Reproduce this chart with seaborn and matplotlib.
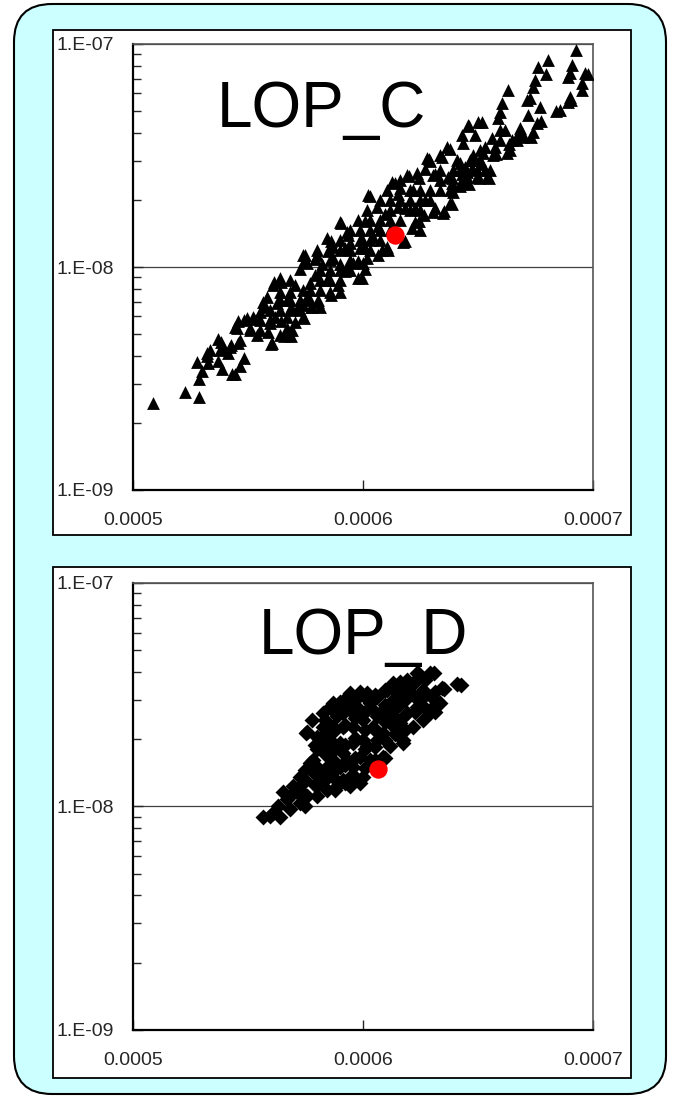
import numpy as np
import matplotlib
matplotlib.use("Agg")
import matplotlib.pyplot as plt
from matplotlib.patches import FancyBboxPatch, Rectangle
from matplotlib.ticker import LogLocator, NullFormatter
import seaborn as sns

# ============================================
# DATA  (x in units of 1e-6, y in units of 1e-9)
# ============================================

x_tick_values = [0.0005, 0.0006, 0.0007]
x_tick_labels = ["0.0005", "0.0006", "0.0007"]
y_tick_values = [1e-9, 1e-8, 1e-7]
y_tick_labels = ["1.E-09", "1.E-08", "1.E-07"]

panel_titles = ["LOP_C", "LOP_D"]

lop_c_x = [
    508.7, 522.6, 528.7, 528.7, 530.0, 527.8, 532.0, 532.6, 537.0, 538.7, 543.0, 544.3, 546.5, 548.3,
    537.0, 539.0, 541.3, 542.2, 545.6, 544.3, 545.6, 549.6, 552.2, 550.9, 553.9, 555.2, 558.7, 560.4,
    559.6, 561.7, 563.9, 567.0, 569.1, 567.0, 570.4, 573.9, 556.5, 555.2, 558.3, 560.9, 563.9, 563.9,
    562.6, 567.0, 568.3, 570.4, 571.3, 573.9, 573.9, 575.6, 577.8, 580.4, 581.3, 577.0, 579.1, 572.6,
    573.9, 575.6, 580.0, 582.2, 584.3, 585.7, 587.0, 590.0, 590.0, 593.0, 595.7, 597.8, 600.0, 601.7,
    574.8, 580.0, 584.3, 590.0, 587.0, 593.0, 594.3, 597.8, 602.2, 601.7, 606.0, 604.3, 608.3, 610.4,
    610.4, 612.6, 616.0, 615.2, 617.4, 619.1, 621.7, 622.6, 624.8, 623.5, 627.8, 627.0, 630.4, 630.4,
    634.8, 633.5, 637.0, 639.1, 637.8, 642.2, 643.5, 645.2, 647.8, 649.6, 653.0, 656.5,
    692.6, 680.4, 676.1, 679.6, 690.9, 690.0, 689.1, 696.5, 695.2, 695.2, 674.8, 674.0, 663.0, 660.4,
    671.3, 672.6, 677.0, 690.0, 689.1, 683.9, 671.7, 675.6, 659.6, 658.7, 645.7, 650.0, 651.7, 643.0,
    648.7, 643.5, 656.1, 659.6, 661.7, 668.3, 669.1, 667.0, 664.8, 662.6, 657.4, 653.0, 652.2, 647.8,
    636.5, 634.3, 640.9, 639.1, 644.3, 645.2, 649.6, 653.9, 638.7, 642.2,
    646.0, 628.7, 637.8, 627.0, 631.3, 638.7, 642.2, 650.4, 654.8, 667.8, 673.9, 677.4, 685.7, 690.4,
    697.8, 603.0, 613.9, 620.0, 624.3, 615.2, 618.3, 622.6, 626.5, 621.3, 624.3, 609.6, 606.5, 600.9,
    599.6, 593.5, 590.4, 586.1, 592.2, 600.9, 606.5, 610.9, 618.3, 584.8, 579.1, 574.3, 597.8, 600.9,
    599.6, 592.2, 589.1, 586.1, 580.4, 577.4, 568.7, 564.3, 560.0, 565.7, 568.7, 574.3,
    532.2, 538.3, 542.6, 545.2, 548.3, 552.6, 557.0, 561.3, 564.3,
    629.1, 631.3, 635.2, 638.7, 646.1, 643.0, 647.4, 651.7, 657.8, 663.5, 669.6, 673.0,
    563.9, 568.3, 572.6, 577.0, 581.3, 585.7, 581.3, 590.0, 594.3, 585.7, 598.7, 603.0, 603.0, 607.4,
    611.7, 611.7, 607.4, 616.1, 620.4, 624.8, 629.1, 629.1, 633.5, 633.5, 624.8, 616.1, 590.0, 598.7,
    533.5, 537.8, 546.5, 550.9, 555.2, 559.6, 559.6, 563.9, 568.3, 572.6, 568.3, 577.0, 581.3, 585.7,
    590.0, 594.3, 594.3, 590.0, 594.3, 598.7, 603.0, 603.0, 607.4, 607.4, 611.7, 616.1, 620.4, 611.7,
    624.8, 620.4, 633.5, 637.8, 642.2, 646.5, 650.9, 655.2, 650.9, 659.6, 664.0,
]
lop_c_y = [
    2.45, 2.75, 2.6, 3.15, 3.4, 3.75, 4.1, 3.7, 3.8, 3.5, 3.3, 3.3, 3.6, 3.9,
    4.75, 4.4, 4.1, 4.4, 4.55, 5.4, 5.75, 5.9, 5.95, 5.35, 4.95, 5.8, 5.1, 4.55,
    5.6, 5.95, 4.95, 5.35, 5.2, 5.95, 5.65, 5.95, 7.0, 6.3, 7.3, 8.3, 8.9, 7.7,
    6.9, 7.1, 7.7, 8.3, 6.45, 6.75, 7.9, 7.3, 6.6, 7.1, 6.65, 8.5, 9.2, 9.8,
    11.3, 10.4, 11.3, 10.3, 8.75, 7.7, 11.0, 10.3, 7.7, 9.7, 10.4, 8.9, 10.4, 11.0,
    11.3, 11.9, 13.5, 15.9, 12.3, 14.4, 12.8, 16.2, 21.0, 18.0, 18.6, 13.6, 11.9, 12.3,
    22.2, 24.0, 22.6, 18.6, 12.9, 25.8, 22.2, 15.9, 14.6, 26.4, 30.8, 20.0, 25.8, 17.6,
    17.4, 31.8, 25.3, 21.7, 19.4, 29.3, 24.0, 26.6, 30.2, 25.3, 27.2, 31.8,
    94.0, 84.8, 78.8, 73.4, 80.5, 74.0, 71.2, 74.0, 66.9, 62.2, 69.0, 64.1, 62.2, 54.4,
    56.1, 57.3, 52.2, 57.9, 55.0, 50.0, 48.0, 44.3, 49.6, 46.6, 43.3, 44.7, 44.7, 39.0,
    39.0, 36.0, 37.9, 41.2, 41.2, 41.9, 39.8, 37.1, 37.1, 32.5, 34.5, 34.5, 32.5, 31.8,
    34.5, 31.2, 30.2, 27.2, 28.0, 25.3, 27.2, 25.3, 23.8, 23.1,
    42.9, 30.5, 33.8, 27.5, 26.0, 25.1, 23.6, 25.1, 25.1, 40.3, 40.3, 45.2, 50.6, 56.1,
    73.4, 20.8, 23.8, 25.6, 25.1, 21.2, 18.4, 18.4, 17.1, 15.0, 16.1, 17.3, 15.2, 16.1,
    13.4, 13.9, 15.8, 13.1, 12.2, 12.2, 11.3, 11.9, 13.1, 11.8, 10.9, 10.6, 10.6, 9.8,
    8.9, 9.6, 8.3, 7.5, 7.0, 6.6, 6.6, 5.7, 4.5, 4.9, 4.9, 5.9,
    4.0, 4.6, 4.45, 5.3, 5.8, 5.85, 6.6, 8.55, 8.55,
    29.9, 18.4, 17.9, 19.2, 23.6, 26.0, 27.8, 28.9, 32.1, 35.6, 38.3, 38.3,
    7.11, 8.74, 7.11, 7.9, 8.74, 9.7, 9.7, 11.9, 11.9, 10.7, 14.7, 14.7, 13.2, 16.3,
    16.3, 20.0, 20.0, 20.0, 20.0, 20.0, 22.1, 20.0, 22.1, 24.5, 22.1, 24.5, 13.2, 12.2,
    4.24, 4.24, 4.71, 5.2, 5.2, 5.78, 6.4, 6.4, 6.4, 6.4, 7.11, 7.11, 7.9, 8.74,
    8.74, 9.7, 10.7, 9.7, 14.7, 13.2, 16.3, 11.9, 14.7, 13.2, 14.7, 16.3, 18.0, 18.0,
    18.0, 22.1, 27.2, 22.1, 27.2, 30.2, 30.2, 27.2, 33.5, 37.1, 33.5,
]

lop_d_x = [
    556.5, 560.9, 563.9, 563.0, 567.0, 568.3, 572.6, 574.8, 569.6, 572.6, 574.8, 578.3, 580.0, 581.3,
    575.7, 577.8, 582.6, 585.7, 585.7, 590.0, 587.0, 594.3, 598.7, 594.3, 591.3, 590.0, 587.0, 582.6,
    580.0, 584.3, 588.7, 591.3, 594.3, 598.7, 600.0, 595.7, 593.0, 598.7, 601.7, 606.1, 608.7, 604.3,
    600.0, 598.7, 603.0, 606.1, 610.4, 613.0, 616.1, 619.1, 623.5, 629.1, 621.7, 620.4, 617.4, 614.8,
    611.7, 619.1, 623.5, 624.8, 626.1, 621.7, 617.4, 614.8, 611.7, 608.7, 609.6, 617.4, 630.0, 631.3,
    634.3, 640.9, 633.5, 630.4, 629.1, 577.0, 574.0, 580.0, 578.3, 584.3, 590.0, 595.7, 595.7, 591.3,
    603.0, 600.0, 606.1, 611.7, 616.1, 608.7, 588.7, 582.6, 580.0, 585.7, 581.3, 587.0, 568.3, 565.2,
    571.3, 559.6, 575.7, 594.3, 584.3, 601.7, 614.8, 619.1, 626.1, 613.0, 594.3, 591.3, 587.0,
    575.2, 586.1, 591.3, 598.7, 624.3, 630.9, 642.6, 635.2,
    574.8, 574.8, 579.1, 579.1, 579.1, 583.5, 583.5, 583.5, 583.5, 587.8, 587.8, 587.8, 587.8, 587.8,
    592.2, 592.2, 592.2, 592.2, 592.2, 596.5, 596.5, 596.5, 596.5, 596.5, 600.9, 600.9, 600.9, 600.9,
    600.9, 605.2, 605.2, 605.2, 605.2, 605.2, 609.6, 609.6, 609.6, 609.6, 613.9, 613.9, 613.9, 613.9,
    618.3, 618.3, 618.3, 618.3, 622.6, 622.6, 622.6, 627.0, 627.0, 627.0, 631.3, 631.3,
]
lop_d_y = [
    8.93, 9.4, 8.93, 10.0, 10.8, 11.1, 10.4, 10.0, 12.3, 13.6, 14.6, 16.2, 18.0, 19.9,
    21.6, 24.5, 26.3, 28.0, 19.9, 29.4, 22.8, 32.3, 32.3, 27.1, 22.8, 19.3, 16.2, 14.2,
    12.3, 11.9, 12.3, 13.2, 13.6, 12.8, 13.6, 15.0, 16.2, 16.7, 18.6, 19.9, 21.3, 22.8,
    24.5, 27.1, 29.0, 31.0, 33.3, 35.8, 36.1, 36.9, 39.6, 39.6, 35.8, 32.3, 30.0, 28.0,
    26.3, 26.3, 28.0, 30.0, 24.5, 22.8, 19.9, 22.0, 18.6, 16.7, 16.5, 19.3, 31.0, 32.6,
    34.0, 35.4, 29.0, 28.0, 26.3, 15.7, 12.8, 11.1, 14.2, 15.0, 15.0, 22.8, 19.3, 17.4,
    16.2, 19.9, 25.3, 23.7, 23.7, 27.1, 25.3, 22.8, 20.5, 17.4, 13.6, 13.6, 9.7, 11.6,
    11.6, 9.1, 11.1, 12.3, 18.6, 32.3, 32.3, 33.3, 33.3, 30.0, 29.0, 26.3, 29.0,
    21.4, 27.7, 29.7, 32.6, 39.3, 39.6, 35.0, 33.7,
    13.2, 11.3, 18.9, 15.4, 12.5, 24.5, 21.0, 17.1, 13.2, 26.5, 22.1, 18.0, 14.6, 11.9,
    28.6, 23.2, 18.9, 15.4, 12.8, 30.0, 25.0, 20.3, 16.5, 13.5, 31.0, 26.5, 22.1, 18.0,
    14.9, 31.6, 26.5, 22.1, 18.4, 16.2, 33.3, 28.6, 24.0, 19.9, 34.0, 29.1, 25.0, 21.0,
    35.1, 30.0, 25.7, 22.1, 36.1, 31.0, 26.5, 36.9, 31.6, 27.7, 30.0, 26.5,
]

# the red reference point of each panel
red_x = [613.9, 606.7]
red_y = [13.9, 14.7]

# ============================================
# LAYOUT (pixels in a 677 x 1099 canvas)
# ============================================

W, H = 677, 1099
CYAN = "#CCFFFF"

sns.set_style("white")
plt.rcParams["font.family"] = ["Liberation Sans", "DejaVu Sans"]

fig = plt.figure(figsize=(W / 100, H / 100), dpi=100)
fig.patch.set_facecolor("white")

# background canvas in pixel units
bg = fig.add_axes([0, 0, 1, 1], zorder=-5)
bg.set_xlim(0, W)
bg.set_ylim(H, 0)
bg.axis("off")
bg.add_patch(FancyBboxPatch((14, 4), 652, 1090, boxstyle="round,pad=0,rounding_size=38",
                            facecolor=CYAN, edgecolor="black", linewidth=1.5))
for (x0, y0, x1, y1) in [(53, 30, 631, 535), (53, 567, 631, 1078)]:
    bg.add_patch(Rectangle((x0, y0), x1 - x0, y1 - y0, facecolor="white",
                           edgecolor="black", linewidth=1.3))


def make_axes(top_px, bottom_px):
    left, right = 133, 593
    return fig.add_axes([left / W, 1 - bottom_px / H, (right - left) / W,
                         (bottom_px - top_px) / H])


def style_axes(ax):
    ax.set_yscale("log")
    ax.set_xlim(0.0005, 0.0007)
    ax.set_ylim(1e-9, 1e-7)
    ax.set_xticks(x_tick_values, labels=x_tick_labels)
    ax.set_yticks(y_tick_values, labels=y_tick_labels)
    ax.yaxis.set_minor_locator(LogLocator(base=10, subs=range(2, 10)))
    ax.yaxis.set_minor_formatter(NullFormatter())
    ax.tick_params(axis="y", which="major", direction="in", length=7, width=1,
                   labelsize=14, pad=14, left=True, right=False)
    ax.tick_params(axis="y", which="minor", direction="in", length=6, width=1,
                   left=True, right=False)
    ax.tick_params(axis="x", which="major", direction="in", length=7, width=1,
                   labelsize=14, pad=16, bottom=True, top=False)
    ax.grid(axis="y", which="major", color="#404040", linewidth=0.9)
    ax.grid(axis="x", visible=False)
    for side in ["left", "bottom"]:
        ax.spines[side].set_color("black")
        ax.spines[side].set_linewidth(1.6)
    for side in ["top", "right"]:
        ax.spines[side].set_color("#555555")
        ax.spines[side].set_linewidth(1.2)
    ax.set_xlabel("")
    ax.set_ylabel("")
    ax.set_facecolor("white")


# ---- LOP_C
ax1 = make_axes(44, 490)
sns.scatterplot(x=np.array(lop_c_x) * 1e-6, y=np.array(lop_c_y) * 1e-9, marker="^",
                color="black", s=85, linewidth=0, ax=ax1, zorder=3)
sns.scatterplot(x=[red_x[0] * 1e-6], y=[red_y[0] * 1e-9], marker="o", color="red",
                s=175, linewidth=0, ax=ax1, zorder=4)
style_axes(ax1)
ax1.text(0.409, 0.815, panel_titles[0], transform=ax1.transAxes, ha="center",
         va="baseline", fontsize=46, color="black")

# ---- LOP_D
ax2 = make_axes(583, 1030)
sns.scatterplot(x=np.array(lop_d_x) * 1e-6, y=np.array(lop_d_y) * 1e-9, marker="D",
                color="black", s=66, linewidth=0, ax=ax2, zorder=3)
sns.scatterplot(x=[red_x[1] * 1e-6], y=[red_y[1] * 1e-9], marker="o", color="red",
                s=175, linewidth=0, ax=ax2, zorder=4)
style_axes(ax2)
ax2.text(0.502, 0.841, panel_titles[1], transform=ax2.transAxes, ha="center",
         va="baseline", fontsize=46, color="black")

fig.savefig("out.png", dpi=100, facecolor="white")
